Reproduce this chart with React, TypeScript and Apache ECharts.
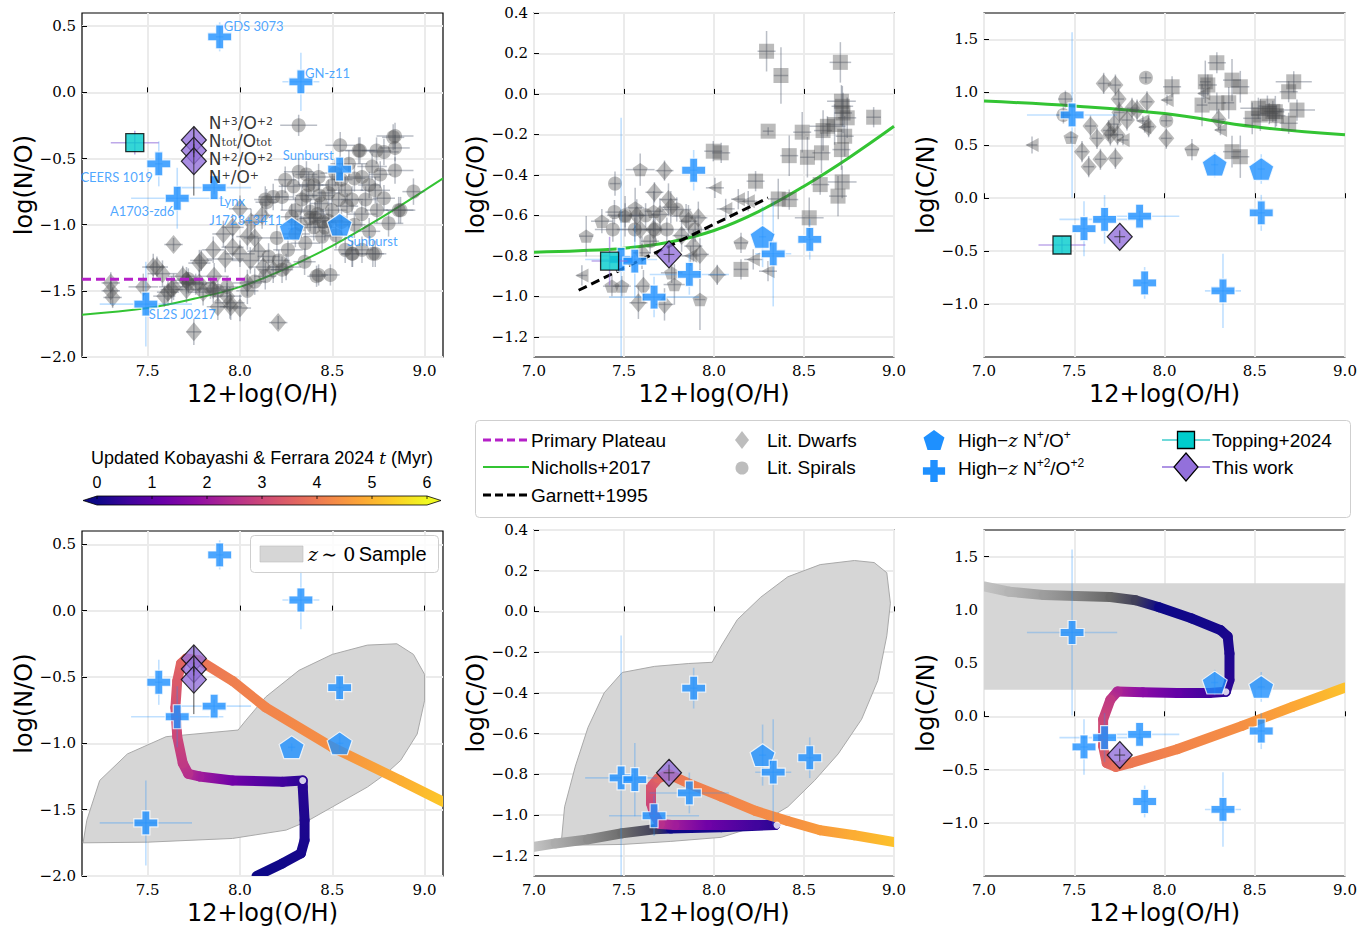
import React, { useEffect, useRef } from 'react';
import * as echarts from 'echarts';

// ---------------- DATA ----------------
// gray literature points: [12+log(O/H), value, xerr, yerr]
const noDwarfs = [
  [7.30,-1.44,0.05,0.08],[7.31,-1.55,0.05,0.08],[7.30,-1.50,0.05,0.1],[7.476,-1.47,0.08,0.1],[7.53,-1.32,0.06,0.1],
  [7.55,-1.32,0.06,0.08],[7.58,-1.37,0.08,0.1],[7.61,-1.51,0.06,0.1],[7.64,-1.15,0.05,0.05],[7.64,-1.47,0.08,0.1],
  [7.71,-1.42,0.08,0.1],[7.71,-1.49,0.06,0.1],[7.75,-1.81,0.04,0.1],[7.78,-1.29,0.06,0.1],[7.78,-1.44,0.08,0.1],
  [7.80,-1.51,0.08,0.1],[7.855,-1.19,0.06,0.1],[7.855,-1.49,0.1,0.1],[7.91,-1.07,0.06,0.1],[7.93,-1.54,0.08,0.1],
  [7.945,-1.59,0.08,0.12],[7.96,-1.17,0.06,0.1],[8.0,-1.22,0.08,0.1],[8.0,-1.63,0.06,0.1],[8.04,-1.09,0.06,0.1],
  [8.056,-1.27,0.1,0.1],[8.04,-1.44,0.08,0.1],[8.126,-1.32,0.08,0.1],[8.18,-1.34,0.08,0.1],[8.207,-1.74,0.05,0.05],
  [8.25,-1.32,0.08,0.1],[7.69,-1.39,0.08,0.08],[7.72,-1.44,0.08,0.08],[7.86,-1.39,0.08,0.1],[7.92,-1.26,0.1,0.1],
  [7.59,-1.54,0.06,0.08],[7.63,-1.49,0.06,0.1],[7.79,-1.27,0.06,0.08],[7.95,-1.62,0.06,0.1],[7.88,-1.62,0.06,0.1],
  [8.1,-1.2,0.06,0.1],[8.0,-0.88,0.06,0.1],[8.06,-0.98,0.06,0.1],[7.96,-1.02,0.06,0.1],[8.08,-1.1,0.06,0.1],[8.12,-0.93,0.06,0.1]
];
const noSpirals = [
  [8.318,-0.249,0.1,0.08],[8.543,-0.40,0.08,0.1],[8.84,-0.33,0.1,0.1],[8.78,-0.45,0.08,0.1],[8.643,-0.44,0.1,0.1],
  [8.84,-0.42,0.08,0.1],[8.245,-0.66,0.06,0.1],[8.318,-0.60,0.08,0.1],[8.372,-0.70,0.08,0.1],[8.426,-0.64,0.1,0.1],
  [8.336,-0.81,0.1,0.1],[8.408,-0.95,0.08,0.12],[8.498,-0.89,0.08,0.1],[8.57,-0.74,0.1,0.1],[8.661,-0.64,0.1,0.1],
  [8.733,-0.74,0.08,0.1],[8.742,-0.89,0.06,0.1],[8.84,-0.59,0.1,0.1],[8.94,-0.75,0.06,0.1],[8.86,-0.89,0.08,0.1],
  [8.805,-0.99,0.08,0.1],[8.354,-1.14,0.08,0.1],[8.445,-1.09,0.1,0.1],[8.57,-1.19,0.06,0.1],[8.661,-1.19,0.06,0.1],
  [8.733,-1.22,0.06,0.1],[8.607,-1.22,0.06,0.1],[8.26,-1.19,0.08,0.1],[8.155,-1.24,0.06,0.1],[8.228,-1.34,0.06,0.1],
  [8.137,-1.39,0.06,0.1],[8.426,-1.38,0.05,0.08],[8.49,-1.38,0.05,0.08],[8.21,-1.27,0.06,0.08],[8.30,-1.07,0.08,0.1],
  [8.48,-0.97,0.08,0.1],[8.535,-0.81,0.08,0.1],[8.607,-0.81,0.06,0.1],[8.68,-0.81,0.06,0.1],[8.516,-0.61,0.08,0.1],
  [8.59,-0.54,0.1,0.1],[8.716,-0.56,0.08,0.1],[8.228,-0.79,0.06,0.1],[8.137,-0.81,0.06,0.1],[8.30,-0.89,0.08,0.1],
  [8.48,-0.76,0.06,0.1],[8.43,-0.78,0.08,0.1],[8.144,-0.83,0.06,0.1],[8.18,-0.79,0.08,0.1],[8.29,-0.71,0.08,0.1],
  [8.65,-0.44,0.08,0.1],[8.74,-0.44,0.08,0.1],[8.83,-0.34,0.06,0.1],[8.87,-0.89,0.08,0.1],[8.415,-1.39,0.05,0.08],
  [8.61,-1.22,0.06,0.1],[8.72,-1.22,0.06,0.1],[8.38,-0.90,0.08,0.1],[8.40,-1.02,0.06,0.1],[8.45,-0.98,0.06,0.1],
  [8.55,-0.98,0.06,0.1],[8.62,-1.0,0.06,0.1],[8.66,-0.92,0.08,0.1],[8.70,-0.70,0.06,0.1],[8.76,-0.62,0.06,0.1],
  [8.62,-0.65,0.06,0.1],[8.50,-0.70,0.06,0.1],[8.40,-0.70,0.08,0.1],[8.36,-0.62,0.06,0.1],[8.28,-0.94,0.06,0.1],
  [8.33,-1.0,0.06,0.1],[8.52,-1.08,0.06,0.1],[8.70,-1.05,0.06,0.1],[8.78,-0.80,0.06,0.1],[8.58,-0.86,0.06,0.1],
  [8.44,-0.84,0.06,0.1],[8.35,-1.28,0.06,0.1],[8.08,-1.43,0.06,0.1],[8.04,-1.50,0.06,0.1],[7.72,-1.41,0.06,0.08],
  [7.76,-1.45,0.06,0.08],[7.84,-1.48,0.06,0.08],[7.88,-1.50,0.06,0.08],[7.93,-1.47,0.06,0.08],[8.20,-1.10,0.06,0.1],
  [8.38,-0.95,0.06,0.1],[8.42,-0.92,0.06,0.1],[8.46,-1.02,0.06,0.1],[8.36,-0.78,0.06,0.1],[8.55,-0.66,0.06,0.1]
];
const coSquares = [
  [8.292,0.211,0.05,0.1],[8.372,0.091,0.04,0.14],[8.702,0.156,0.06,0.1],[8.887,-0.115,0.04,0.05],[8.301,-0.184,0.03,0.02],
  [8.49,-0.189,0.05,0.1],[8.418,-0.305,0.05,0.1],[8.519,-0.313,0.04,0.1],[8.606,-0.181,0.05,0.1],[8.597,-0.291,0.05,0.1],
  [8.708,-0.275,0.05,0.1],[8.712,-0.435,0.08,0.08],[8.59,-0.448,0.05,0.05],[8.689,-0.505,0.05,0.1],[8.529,-0.612,0.08,0.1],
  [8.726,-0.209,0.05,0.1],[8.713,-0.061,0.06,0.1],[8.717,-0.094,0.05,0.1],[8.74,-0.118,0.05,0.1],[8.67,-0.151,0.05,0.1],
  [8.708,-0.036,0.08,0.08],[7.996,-0.283,0.05,0.05],[8.04,-0.291,0.05,0.05],[8.231,-0.431,0.05,0.05],[8.357,-0.519,0.05,0.1],
  [8.418,-0.522,0.05,0.05],[8.15,-0.867,0.04,0.05],[8.63,-0.16,0.1,0.05]
];
const coPentagons = [
  [7.29,-0.703,0.04,0.1],[7.377,-0.629,0.06,0.06],[7.506,-0.604,0.08,0.1],[7.562,-0.563,0.05,0.1],[7.59,-0.374,0.08,0.08],
  [7.922,-1.016,0.03,0.15],[8.15,-0.736,0.04,0.05],[7.78,-0.942,0.06,0.1],[7.765,-0.884,0.06,0.05],[7.433,-0.95,0.05,0.05],
  [7.488,-0.95,0.05,0.05],[7.665,-0.58,0.05,0.1]
];
const coDiamonds = [
  [7.669,-0.486,0.05,0.05],[7.725,-0.379,0.05,0.05],[7.747,-0.522,0.05,0.08],[7.70,-0.596,0.05,0.08],[7.571,-0.601,0.05,0.08],
  [7.59,-0.67,0.05,0.08],[7.664,-0.67,0.05,0.08],[7.60,-0.785,0.05,0.08],[7.608,-0.95,0.05,0.08],[7.58,-1.032,0.05,0.08],
  [7.725,-1.04,0.05,0.08],[7.858,-0.629,0.05,0.08],[7.885,-0.752,0.05,0.08],[7.922,-0.793,0.05,0.08],[8.018,-0.894,0.05,0.05],
  [7.913,-0.612,0.05,0.08],[7.82,-0.70,0.05,0.08],[7.76,-0.56,0.05,0.08]
];
const coCircles = [
  [7.45,-0.443,0.03,0.06],[7.447,-0.584,0.05,0.06],[7.438,-0.67,0.1,0.06],[7.56,-0.67,0.1,0.06],[7.673,-0.67,0.1,0.06],
  [7.738,-0.67,0.1,0.06],[7.793,-0.571,0.08,0.06],[7.845,-0.604,0.08,0.06],[7.895,-0.67,0.08,0.06],[7.506,-0.6,0.1,0.06],
  [7.645,-0.728,0.05,0.06],[7.62,-0.60,0.08,0.06]
];
const coTriangles = [
  [7.266,-0.897,0.03,0.05],[8.065,-0.568,0.05,0.05],[8.005,-0.464,0.05,0.05],[8.19,-0.53,0.05,0.05],[8.218,-0.818,0.05,0.05],
  [8.30,-0.876,0.05,0.05],[8.135,-0.52,0.04,0.05],[7.87,-0.80,0.05,0.05]
];
const cnCircles = [[7.451,0.937,0.04,0.08],[7.44,0.786,0.04,0.08],[7.897,1.138,0.03,0.05],[8.01,0.732,0.03,0.05]];
const cnDiamonds = [
  [7.663,1.085,0.03,0.1],[7.728,1.069,0.03,0.1],[7.746,0.937,0.03,0.1],[7.59,0.682,0.03,0.1],[7.626,0.566,0.03,0.1],
  [7.543,0.44,0.03,0.1],[7.58,0.298,0.03,0.1],[7.645,0.368,0.03,0.1],[7.728,0.377,0.03,0.1],[7.70,0.597,0.03,0.1],
  [7.69,0.64,0.03,0.1],[7.848,0.833,0.03,0.1],[7.903,0.911,0.03,0.1],[7.912,0.676,0.03,0.1],[8.01,0.566,0.03,0.1],
  [8.30,0.745,0.03,0.1],[7.75,0.81,0.03,0.1],[7.792,0.739,0.03,0.1],[7.72,0.70,0.03,0.1],[7.74,0.60,0.03,0.1],[7.82,0.85,0.03,0.1]
];
const cnSquares = [
  [8.29,1.28,0.05,0.1],[8.042,1.053,0.05,0.1],[8.226,1.1,0.03,0.2],[8.374,1.116,0.05,0.2],[8.42,1.053,0.05,0.15],
  [8.208,0.88,0.03,0.2],[8.356,0.902,0.03,0.15],[8.531,0.786,0.05,0.15],[8.57,0.87,0.05,0.1],[8.614,0.817,0.05,0.15],
  [8.52,0.85,0.1,0.1],[8.716,1.1,0.1,0.1],[8.688,1.006,0.05,0.1],[8.734,0.833,0.1,0.1],[8.688,0.708,0.05,0.1],
  [8.486,0.755,0.05,0.15],[8.374,0.44,0.05,0.15],[8.42,0.392,0.05,0.2],[8.6,0.82,0.05,0.1],[8.62,0.78,0.05,0.1],
  [8.58,0.80,0.05,0.1],[8.24,1.07,0.05,0.1],[8.29,0.90,0.05,0.1]
];
const cnTriangles = [[7.266,0.503,0.03,0.08],[8.014,0.927,0.03,0.05],[8.217,0.99,0.03,0.05],[8.31,0.645,0.03,0.05],[7.89,0.67,0.03,0.05],[7.88,0.73,0.03,0.05],[7.77,0.55,0.03,0.05]];
const cnPentagons = [[7.482,0.575,0.03,0.05],[8.152,0.46,0.04,0.1]];

// high-z galaxies: [12+log(O/H), value, xerr, yerr]
const noCross = [[7.89,0.42,0.02,0.11],[8.33,0.08,0.1,0.22],[7.56,-0.54,0.02,0.17],[7.66,-0.80,0.25,0.23],[7.86,-0.72,0.2,0.05],[8.54,-0.58,0.02,0.1],[7.49,-1.6,0.25,0.32]];
const noCrossNames = ['GDS 3073','GN-z11','CEERS 1019','A1703-zd6','Lynx','Sunburst','SL2S J0217'];
const noPent = [[8.28,-1.03,0.02,0.03],[8.54,-1.0,0.02,0.06]];
const noPentNames = ['J1723+3411','Sunburst'];
const coCross = [[7.484,-0.818,0.2,0.7],[7.56,-0.826,0.02,0.18],[7.667,-1.004,0.25,0.1],[7.863,-0.892,0.22,0.1],[7.887,-0.377,0.02,0.1],[8.329,-0.79,0.1,0.26],[8.532,-0.719,0.02,0.1]];
const coPent = [[8.27,-0.706,0.02,0.15]];
const cnCross = [[7.488,0.787,0.25,0.78],[7.554,-0.288,0.02,0.26],[7.668,-0.20,0.25,0.23],[7.862,-0.17,0.22,0.05],[7.89,-0.80,0.02,0.15],[8.324,-0.875,0.1,0.35],[8.536,-0.138,0.02,0.17]];
const cnPent = [[8.278,0.317,0.02,0.12],[8.536,0.276,0.02,0.14]];
const toppingNO = [[7.43,-0.38,0.13,0.09]];
const toppingCO = [[7.42,-0.826,0.1,0.12]];
const toppingCN = [[7.432,-0.442,0.13,0.08]];
const thisWorkNO = [[7.75,-0.36,0.0,0.1],[7.75,-0.44,0.0,0.05],[7.75,-0.52,0.0,0.26]];
const thisWorkCO = [[7.75,-0.793,0.03,0.04]];
const thisWorkCN = [[7.752,-0.364,0.03,0.06]];
const thisWorkLabels = ['{m|N}{sp|+3}{m|/O}{sp|+2}', '{m|N}{sb|tot}{m|/O}{sb|tot}', '{m|N}{sp|+2}{m|/O}{sp|+2}', '{m|N}{sp|+}{m|/O}{sp|+}'];

// reference relations
const nichollsNO = [[7.144,-1.68],[7.5,-1.63],[7.75,-1.56],[8.0,-1.47],[8.25,-1.33],[8.5,-1.16],[8.75,-0.96],[9.0,-0.74],[9.1,-0.65]];
const nichollsCO = [[7.0,-0.782],[7.25,-0.775],[7.5,-0.762],[7.75,-0.733],[8.0,-0.675],[8.25,-0.58],[8.5,-0.456],[8.75,-0.315],[9.0,-0.16]];
const nichollsCN = [[7.0,0.918],[7.5,0.872],[8.0,0.80],[8.5,0.675],[9.0,0.60]];
const garnettCO = [[7.248,-0.97],[8.30,-0.514]];
const plateauNO = [[7.144,-1.413],[8.05,-1.413]];

// z~0 sample regions
const noRegion = [[7.15,-1.75],[7.5,-1.745],[7.96,-1.717],[8.25,-1.654],[8.36,-1.59],[8.5,-1.48],[8.69,-1.33],[8.79,-1.23],[8.87,-1.13],[8.96,-0.93],[9.0,-0.68],[9.0,-0.48],[8.94,-0.33],[8.85,-0.25],[8.69,-0.26],[8.5,-0.33],[8.32,-0.45],[8.14,-0.65],[8.03,-0.83],[7.99,-0.9],[7.6,-0.95],[7.39,-1.08],[7.24,-1.28],[7.17,-1.58]];
const coRegion = [[7.15,-1.149],[7.17,-0.96],[7.23,-0.76],[7.30,-0.57],[7.39,-0.40],[7.49,-0.30],[7.67,-0.27],[7.86,-0.256],[7.99,-0.25],[8.04,-0.17],[8.13,-0.04],[8.26,0.07],[8.41,0.17],[8.59,0.23],[8.78,0.25],[8.89,0.24],[8.96,0.19],[8.98,0.04],[8.96,-0.12],[8.91,-0.34],[8.82,-0.53],[8.69,-0.70],[8.56,-0.83],[8.41,-0.96],[8.22,-1.06],[8.04,-1.11],[7.76,-1.13],[7.49,-1.145]];
const cnRegion = [[7.0,0.25],[9.0,0.25],[9.0,1.25],[7.0,1.25]];

// Kobayashi & Ferrara model tracks: [12+log(O/H), value, t (Myr); negative t = pre-burst grey]
const trackNO = [[8.09,-2.0,0.0],[8.23,-1.905,0.05],[8.33,-1.83,0.1],[8.35,-1.73,0.15],[8.35,-1.58,0.2],[8.34,-1.33,0.3],[8.34,-1.28,0.35],[8.23,-1.29,0.6],[7.96,-1.28,1.3],[7.78,-1.25,2.1],[7.72,-1.23,2.5],[7.69,-1.15,2.7],[7.66,-0.95,3.0],[7.65,-0.73,3.2],[7.66,-0.53,3.4],[7.68,-0.40,3.6],[7.71,-0.36,3.7],[7.78,-0.375,3.9],[7.96,-0.53,4.1],[8.14,-0.73,4.2],[8.5,-1.03,4.4],[8.87,-1.28,4.9],[9.1,-1.44,5.3]];
const trackCO = [[7.0,-1.157,-1.0],[7.12,-1.14,-0.85],[7.30,-1.12,-0.65],[7.49,-1.09,-0.45],[7.67,-1.07,-0.2],[7.76,-1.067,0.0],[8.04,-1.06,0.1],[8.34,-1.05,0.35],[8.23,-1.05,0.6],[7.96,-1.05,1.3],[7.78,-1.05,2.1],[7.70,-1.045,2.5],[7.67,-1.0,2.8],[7.65,-0.944,3.0],[7.65,-0.862,3.3],[7.69,-0.82,3.6],[7.75,-0.80,3.8],[7.86,-0.846,4.1],[8.04,-0.91,4.2],[8.23,-0.98,4.3],[8.41,-1.03,4.4],[8.59,-1.075,4.6],[8.78,-1.10,4.9],[9.0,-1.133,5.2]];
const trackCN = [[7.0,1.22,-1.0],[7.14,1.17,-0.9],[7.33,1.14,-0.75],[7.51,1.13,-0.6],[7.70,1.12,-0.4],[7.84,1.09,-0.2],[7.97,1.025,0.0],[8.15,0.92,0.05],[8.31,0.81,0.1],[8.35,0.75,0.15],[8.36,0.59,0.2],[8.36,0.34,0.3],[8.34,0.23,0.35],[8.25,0.22,0.6],[8.07,0.22,1.1],[7.88,0.225,1.7],[7.74,0.234,2.3],[7.70,0.156,2.7],[7.66,-0.03,3.0],[7.66,-0.28,3.3],[7.68,-0.44,3.6],[7.73,-0.475,3.8],[7.81,-0.44,4.0],[8.07,-0.31,4.2],[8.43,-0.09,4.4],[8.71,0.09,4.8],[9.0,0.27,5.2]];
const turnNO = [[8.34,-1.28]];
const turnCO = [[8.35,-1.05]];
const turnCN = [[8.34,0.23]];

// axes ticks
const ohTicksWide = [7.5, 8.0, 8.5, 9.0];
const ohTicks = [7.0, 7.5, 8.0, 8.5, 9.0];
const noTicks = [-2.0, -1.5, -1.0, -0.5, 0.0, 0.5];
const coTicks = [-1.2, -1.0, -0.8, -0.6, -0.4, -0.2, 0.0, 0.2, 0.4];
const cnTicks = [-1.0, -0.5, 0.0, 0.5, 1.0, 1.5];
const cbTicks = [0, 1, 2, 3, 4, 5, 6];

// ---------------- STYLE / HELPERS ----------------
const PLASMA = ['#0d0887','#41049d','#6a00a8','#8f0da4','#b12a90','#cc4778','#e16462','#f2844b','#fca636','#fcce25','#f0f921'];
const GRAY = 'rgba(75,75,75,0.47)';
const GRAY_ERR = 'rgba(90,100,120,0.42)';
const BLUE = '#1e90ff';
const BLUE_ERR = 'rgba(30,144,255,0.28)';
const PURPLE = '#9370db';
const CYAN = '#00cccc';
const GREEN = '#33c433';
const SERIF = '"DejaVu Serif", serif';
const SANS = '"DejaVu Sans", sans-serif';
const LSANS = '"Liberation Sans", Arial, sans-serif';

const SYM = {
  plus: 'path://M-1,-3L1,-3L1,-1L3,-1L3,1L1,1L1,3L-1,3L-1,1L-3,1L-3,-1L-1,-1Z',
  pent: 'path://M0,-1L0.951,-0.309L0.588,0.809L-0.588,0.809L-0.951,-0.309Z',
  ltri: 'path://M-1,0L0.8,-0.95L0.8,0.95Z',
};

function hex(h: string) { return [parseInt(h.slice(1,3),16), parseInt(h.slice(3,5),16), parseInt(h.slice(5,7),16)]; }
function mix(a: string, b: string, f: number) {
  const A = hex(a), B = hex(b);
  const c = A.map((v, i) => Math.round(v + (B[i] - v) * f));
  return `rgb(${c[0]},${c[1]},${c[2]})`;
}
function plasma(f: number) {
  f = Math.max(0, Math.min(1, f));
  const p = f * 10; const i = Math.min(9, Math.floor(p));
  return mix(PLASMA[i], PLASMA[i + 1], p - i);
}
function trackColor(t: number) {
  if (t >= 0) return plasma(t / 6);
  const f = t + 1;
  if (f < 0.75) return mix('#c4c4c4', '#4e4e4e', f / 0.75);
  return mix('#4e4e4e', '#0d0887', (f - 0.75) / 0.25);
}
const fmt = (v: number) => (v < -1e-9 ? '\u2212' : '') + Math.abs(v).toFixed(1);

const GRIDS = [
  { left: 82, top: 13, width: 361, height: 344 },
  { left: 534, top: 13, width: 360, height: 344 },
  { left: 984, top: 13, width: 361, height: 344 },
  { left: 82, top: 531, width: 361, height: 345 },
  { left: 534, top: 530, width: 360, height: 346 },
  { left: 984, top: 530, width: 361, height: 346 },
];

function xAxis(gi: number, min: number, max: number, ticks: number[]) {
  return {
    type: 'value', gridIndex: gi, min, max,
    axisLine: { show: false },
    axisTick: { show: true, inside: true, length: 5, customValues: ticks, lineStyle: { color: '#000' } },
    axisLabel: { customValues: ticks, formatter: fmt, fontFamily: SERIF, fontSize: 15, color: '#000', margin: 6 },
    splitLine: { show: true, lineStyle: { color: '#ebebeb', width: 2 } },
    name: '12+log(O/H)', nameLocation: 'middle', nameGap: 25,
    nameTextStyle: { fontFamily: SANS, fontSize: 24, color: '#000' },
  };
}
function yAxis(gi: number, min: number, max: number, ticks: number[], name: string) {
  return {
    type: 'value', gridIndex: gi, min, max,
    axisLine: { show: false },
    axisTick: { show: true, inside: true, length: 5, customValues: ticks, lineStyle: { color: '#000' } },
    axisLabel: { customValues: ticks, formatter: fmt, fontFamily: SERIF, fontSize: 15, color: '#000', margin: 6 },
    splitLine: { show: true, lineStyle: { color: '#ebebeb', width: 2 } },
    name, nameLocation: 'middle', nameGap: 46,
    nameTextStyle: { fontFamily: SANS, fontSize: 24, color: '#000' },
  };
}

function errBars(gi: number, pts: number[][], color: string, width: number, z: number) {
  return {
    type: 'custom', xAxisIndex: gi, yAxisIndex: gi, silent: true, clip: true, z,
    data: pts.map(p => [p[0], p[1], p[2] || 0, p[3] || 0]),
    encode: { x: 0, y: 1 },
    renderItem: (params: any, api: any) => {
      const x = api.value(0), y = api.value(1), xe = api.value(2), ye = api.value(3);
      const a = api.coord([x - xe, y]), b = api.coord([x + xe, y]);
      const c = api.coord([x, y - ye]), d = api.coord([x, y + ye]);
      const st = { stroke: color, lineWidth: width };
      return { type: 'group', children: [
        { type: 'line', shape: { x1: a[0], y1: a[1], x2: b[0], y2: b[1] }, style: st },
        { type: 'line', shape: { x1: c[0], y1: c[1], x2: d[0], y2: d[1] }, style: st },
      ] };
    },
  };
}
function marks(gi: number, pts: number[][], symbol: string, size: any, itemStyle: any, z: number) {
  return {
    type: 'scatter', xAxisIndex: gi, yAxisIndex: gi, silent: true, z,
    data: pts.map(p => [p[0], p[1]]), symbol, symbolSize: size, symbolKeepAspect: true, itemStyle,
  };
}
function curve(gi: number, pts: number[][], color: string, width: number, dash: any, z: number, smooth: any = 0.4) {
  return {
    type: 'line', xAxisIndex: gi, yAxisIndex: gi, silent: true, z, data: pts, smooth, showSymbol: false, symbol: 'none',
    lineStyle: { color, width, type: dash || 'solid' },
  };
}
function region(gi: number, poly: number[][], stroke: boolean) {
  return {
    type: 'custom', xAxisIndex: gi, yAxisIndex: gi, silent: true, clip: true, z: 1,
    data: [poly[0]], encode: { x: 0, y: 1 },
    renderItem: (params: any, api: any) => ({
      type: 'polygon', shape: { points: poly.map(p => api.coord(p)) },
      style: { fill: '#d6d6d6', stroke: stroke ? '#a9a9a9' : 'none', lineWidth: 1 },
    }),
  };
}
function track(gi: number, tr: number[][], turn: number[][]) {
  const segs: number[][] = [];
  for (let i = 1; i < tr.length; i++) segs.push([tr[i-1][0], tr[i-1][1], tr[i][0], tr[i][1], tr[i-1][2], tr[i][2]]);
  return [{
    type: 'custom', xAxisIndex: gi, yAxisIndex: gi, silent: true, clip: true, z: 3,
    data: segs, encode: { x: [0, 2], y: [1, 3] },
    renderItem: (params: any, api: any) => {
      const p0 = api.coord([api.value(0), api.value(1)]);
      const p1 = api.coord([api.value(2), api.value(3)]);
      const t0 = api.value(4), t1 = api.value(5);
      return {
        type: 'line', shape: { x1: p0[0], y1: p0[1], x2: p1[0], y2: p1[1] },
        style: {
          lineWidth: 10, lineCap: 'round',
          stroke: { type: 'linear', x: p0[0], y: p0[1], x2: p1[0] + 0.01, y2: p1[1] + 0.01, global: true,
            colorStops: [{ offset: 0, color: trackColor(t0) }, { offset: 1, color: trackColor(t1) }] },
        },
      };
    },
  }, marks(gi, turn, 'circle', 7, { color: '#fff' }, 4)];
}
function highz(gi: number, cross: number[][], pent: number[][]) {
  return [
    errBars(gi, cross, BLUE_ERR, 1.6, 6),
    errBars(gi, pent, BLUE_ERR, 1.6, 6),
    marks(gi, pent, SYM.pent, [25, 24], { color: BLUE, borderColor: '#fff', borderWidth: 1.2 }, 7),
    marks(gi, cross, SYM.plus, 24, { color: BLUE, borderColor: '#fff', borderWidth: 1.2 }, 8),
  ];
}
function topping(gi: number, pts: number[][]) {
  return [
    errBars(gi, pts, 'rgba(147,112,219,0.6)', 1.5, 9),
    marks(gi, pts, 'rect', 18, { color: CYAN, borderColor: '#000', borderWidth: 1.3 }, 9),
  ];
}
function thisWork(gi: number, pts: number[][]) {
  return [
    marks(gi, pts, 'diamond', [25, 27], { color: PURPLE, borderColor: '#000', borderWidth: 1.2 }, 10),
    errBars(gi, pts, 'rgba(40,40,40,0.8)', 1, 11),
  ];
}
function grayPts(gi: number, pts: number[][], symbol: string, size: any) {
  return [errBars(gi, pts, GRAY_ERR, 1.5, 4), marks(gi, pts, symbol, size, { color: GRAY }, 5)];
}

// label placements (pixel offsets from the marker, alignment)
const crossLabelPlace: any[] = [[4,-11,'left'],[4,-9,'left'],[-6,13,'right'],[-3,13,'right'],[5,13,'left'],[-6,-14,'right'],[3,10,'left']];
const pentLabelPlace: any[] = [[-9,-9,'right'],[7,16,'left']];
const thisWorkLabelDy = [-28, -10, 8, 26];

function nameLabels(gi: number, pts: number[][], names: string[], place: any[]) {
  return {
    type: 'scatter', xAxisIndex: gi, yAxisIndex: gi, silent: true, z: 12, symbolSize: 0,
    data: pts.map((p, i) => ({
      value: [p[0], p[1]],
      label: {
        show: true, formatter: () => names[i], position: [place[i][0], place[i][1]], align: place[i][2], verticalAlign: 'middle',
        color: BLUE, fontFamily: 'Lato, sans-serif', fontSize: 13, lineHeight: 13,
      },
    })),
  };
}

function buildOption() {
  const series: any[] = [];
  // ---- panel 0: N/O top
  series.push(curve(0, nichollsNO, GREEN, 2, null, 3));
  series.push(...grayPts(0, noDwarfs, 'diamond', [16, 19]));
  series.push(...grayPts(0, noSpirals, 'circle', 14));
  series.push(curve(0, plateauNO, '#b520c8', 3, [9, 5], 6, false));
  series.push(...highz(0, noCross, noPent));
  series.push(...topping(0, toppingNO));
  series.push(...thisWork(0, thisWorkNO));
  series.push(nameLabels(0, noCross, noCrossNames, crossLabelPlace));
  series.push(nameLabels(0, noPent, noPentNames, pentLabelPlace));
  series.push({
    type: 'scatter', xAxisIndex: 0, yAxisIndex: 0, silent: true, z: 12, symbolSize: 0,
    data: thisWorkLabels.map((txt, i) => ({ value: [thisWorkNO[1][0], thisWorkNO[1][1]], label: {
      show: true, position: [15, thisWorkLabelDy[i]], align: 'left', verticalAlign: 'middle',
      formatter: () => txt,
      rich: {
        m: { fontFamily: SANS, fontSize: 17, lineHeight: 14, color: '#000' },
        sp: { fontFamily: SANS, fontSize: 11, lineHeight: 4, verticalAlign: 'top', color: '#000' },
        sb: { fontFamily: SERIF, fontSize: 11, lineHeight: 4, verticalAlign: 'bottom', color: '#000' },
      },
    } })),
  });

  // ---- panel 1: C/O top
  series.push(curve(1, nichollsCO, GREEN, 3, null, 3));
  series.push(...grayPts(1, coSquares, 'rect', 15));
  series.push(...grayPts(1, coPentagons, SYM.pent, [15, 14]));
  series.push(...grayPts(1, coDiamonds, 'diamond', [16, 19]));
  series.push(...grayPts(1, coCircles, 'circle', 14));
  series.push(...grayPts(1, coTriangles, SYM.ltri, 14));
  series.push(curve(1, garnettCO, '#000', 3, [9, 5], 6, false));
  series.push(...topping(1, toppingCO));
  series.push(...highz(1, coCross, coPent));
  series.push(...thisWork(1, thisWorkCO));

  // ---- panel 2: C/N top
  series.push(curve(2, nichollsCN, GREEN, 3, null, 3));
  series.push(...grayPts(2, cnSquares, 'rect', 15));
  series.push(...grayPts(2, cnPentagons, SYM.pent, [15, 14]));
  series.push(...grayPts(2, cnDiamonds, 'diamond', [16, 19]));
  series.push(...grayPts(2, cnCircles, 'circle', 14));
  series.push(...grayPts(2, cnTriangles, SYM.ltri, 14));
  series.push(...topping(2, toppingCN));
  series.push(...highz(2, cnCross, cnPent));
  series.push(...thisWork(2, thisWorkCN));

  // ---- panel 3: N/O bottom
  series.push(region(3, noRegion, true));
  series.push(...track(3, trackNO, turnNO));
  series.push(...highz(3, noCross, noPent));
  series.push(...thisWork(3, thisWorkNO));

  // ---- panel 4: C/O bottom
  series.push(region(4, coRegion, true));
  series.push(...track(4, trackCO, turnCO));
  series.push(...highz(4, coCross, coPent));
  series.push(...thisWork(4, thisWorkCO));

  // ---- panel 5: C/N bottom
  series.push(region(5, cnRegion, false));
  series.push(...track(5, trackCN, turnCN));
  series.push(...highz(5, cnCross, cnPent));
  series.push(...thisWork(5, thisWorkCN));

  // ---- graphic: legend, colorbar, inset legend
  const g: any[] = [];
  const lt = (x: number, y: number, text: string, extra: any = {}) => ({
    type: 'text', x, y, silent: true, z: 100,
    style: { text, fontFamily: LSANS, fontSize: 19, fill: '#000', verticalAlign: 'middle', align: 'left', ...extra },
  });
  const ln = (x1: number, y1: number, x2: number, y2: number, stroke: string, lineWidth: number, lineDash?: number[]) => ({
    type: 'line', silent: true, z: 100, shape: { x1, y1, x2, y2 }, style: { stroke, lineWidth, lineDash },
  });
  g.push({ type: 'rect', z: 99, silent: true, shape: { x: 475.5, y: 420.5, width: 875, height: 97, r: 4 }, style: { fill: '#fff', stroke: '#cfcfcf', lineWidth: 1 } });
  // col 1
  g.push(ln(483, 440, 529, 440, '#b520c8', 3, [8, 4]));
  g.push(lt(531, 440, 'Primary Plateau'));
  g.push(ln(483, 467, 529, 467, GREEN, 2));
  g.push(lt(531, 467, 'Nicholls+2017'));
  g.push(ln(483, 495, 529, 495, '#000', 3, [8, 4]));
  g.push(lt(531, 495, 'Garnett+1995'));
  // col 2
  g.push({ type: 'polygon', z: 100, silent: true, shape: { points: [[742, 431], [749, 440], [742, 449], [735, 440]] }, style: { fill: '#bdbdbd' } });
  g.push(lt(767, 440, 'Lit. Dwarfs'));
  g.push({ type: 'circle', z: 100, silent: true, shape: { cx: 742, cy: 468, r: 6.5 }, style: { fill: '#bdbdbd' } });
  g.push(lt(767, 467, 'Lit. Spirals'));
  // col 3
  const richHz = {
    a: { fontFamily: LSANS, fontSize: 19, lineHeight: 22, fill: '#000' },
    z: { fontFamily: SERIF, fontStyle: 'italic', fontSize: 18, lineHeight: 22, fill: '#000' },
    s: { fontFamily: LSANS, fontSize: 12, lineHeight: 8, verticalAlign: 'top', fill: '#000' },
  };
  const pentPts = [[0,-1],[0.951,-0.309],[0.588,0.809],[-0.588,0.809],[-0.951,-0.309]].map(p => [934 + p[0] * 11, 441 + p[1] * 11]);
  g.push({ type: 'polygon', z: 100, silent: true, shape: { points: pentPts }, style: { fill: BLUE } });
  g.push(lt(958, 440, '{a|High\u2212}{z|z}{a| N}{s|+}{a|/O}{s|+}', { rich: richHz }));
  const plusPts = [[-1,-3],[1,-3],[1,-1],[3,-1],[3,1],[1,1],[1,3],[-1,3],[-1,1],[-3,1],[-3,-1],[-1,-1]].map(p => [934 + p[0] * 3.7, 471 + p[1] * 3.7]);
  g.push({ type: 'polygon', z: 100, silent: true, shape: { points: plusPts }, style: { fill: BLUE } });
  g.push(lt(958, 468, '{a|High\u2212}{z|z}{a| N}{s|+2}{a|/O}{s|+2}', { rich: richHz }));
  // col 4
  g.push(ln(1162, 440, 1210, 440, '#40cccc', 1.5));
  g.push({ type: 'rect', z: 101, silent: true, shape: { x: 1177.5, y: 431.5, width: 17, height: 17 }, style: { fill: CYAN, stroke: '#000', lineWidth: 1.3 } });
  g.push(lt(1212, 440, 'Topping+2024'));
  g.push(ln(1162, 467, 1210, 467, PURPLE, 1.5));
  g.push({ type: 'polygon', z: 101, silent: true, shape: { points: [[1186, 453], [1198, 467], [1186, 481], [1174, 467]] }, style: { fill: PURPLE, stroke: '#000', lineWidth: 1.2 } });
  g.push(lt(1212, 467, 'This work'));

  // colorbar
  const cbX0 = 97, cbX1 = 427, cbY = 496, cbH = 9;
  g.push({ type: 'text', x: 262, y: 458, silent: true, style: {
    text: '{a|Updated Kobayashi & Ferrara 2024 }{t|t}{a| (Myr)}', align: 'center', verticalAlign: 'middle',
    rich: { a: { fontFamily: LSANS, fontSize: 18, fill: '#000' }, t: { fontFamily: SERIF, fontStyle: 'italic', fontSize: 17, fill: '#000' } },
  } });
  g.push({ type: 'rect', silent: true, shape: { x: cbX0, y: cbY, width: cbX1 - cbX0, height: cbH }, style: {
    fill: { type: 'linear', x: 0, y: 0, x2: 1, y2: 0, colorStops: PLASMA.map((c, i) => ({ offset: i / 10, color: c })) },
  } });
  g.push({ type: 'polygon', silent: true, shape: { points: [[cbX0, cbY], [cbX0 - 14, cbY + cbH / 2], [cbX0, cbY + cbH]] }, style: { fill: PLASMA[0] } });
  g.push({ type: 'polygon', silent: true, shape: { points: [[cbX1, cbY], [cbX1 + 14, cbY + cbH / 2], [cbX1, cbY + cbH]] }, style: { fill: PLASMA[10] } });
  g.push({ type: 'polygon', silent: true, shape: { points: [[cbX0 - 14, cbY + cbH / 2], [cbX0, cbY], [cbX1, cbY], [cbX1 + 14, cbY + cbH / 2], [cbX1, cbY + cbH], [cbX0, cbY + cbH]] }, style: { fill: 'none', stroke: '#000', lineWidth: 0.8 } });
  cbTicks.forEach(t => {
    const x = cbX0 + (cbX1 - cbX0) * t / 6;
    g.push(ln(x, cbY, x, cbY + 3, '#000', 0.8));
    g.push({ type: 'text', x, y: 482, silent: true, style: { text: String(t), fontFamily: LSANS, fontSize: 16, fill: '#000', align: 'center', verticalAlign: 'middle' } });
  });

  // inset legend panel 3
  g.push({ type: 'rect', z: 99, silent: true, shape: { x: 250.5, y: 535.5, width: 188, height: 37, r: 4 }, style: { fill: 'rgba(255,255,255,0.85)', stroke: '#cfcfcf', lineWidth: 1 } });
  g.push({ type: 'rect', z: 100, silent: true, shape: { x: 260, y: 546, width: 43, height: 16 }, style: { fill: '#d6d6d6', stroke: '#bdbdbd', lineWidth: 0.6 } });
  g.push({ type: 'text', x: 308, y: 554, z: 100, silent: true, style: {
    text: '{z|z} {s|\u223c 0} {a|Sample}', verticalAlign: 'middle', align: 'left',
    rich: {
      z: { fontFamily: SERIF, fontStyle: 'italic', fontSize: 19, fill: '#000' },
      s: { fontFamily: SERIF, fontSize: 19, fill: '#000' },
      a: { fontFamily: LSANS, fontSize: 20, fill: '#000' },
    },
  } });

  return {
    animation: false,
    backgroundColor: '#fff',
    grid: GRIDS.map(gr => ({ ...gr, show: true, borderColor: '#000', borderWidth: 1.2, backgroundColor: 'transparent', containLabel: false })),
    xAxis: [
      xAxis(0, 7.144, 9.1, ohTicksWide), xAxis(1, 7.0, 9.0, ohTicks), xAxis(2, 7.0, 9.0, ohTicks),
      xAxis(3, 7.144, 9.1, ohTicksWide), xAxis(4, 7.0, 9.0, ohTicks), xAxis(5, 7.0, 9.0, ohTicks),
    ],
    yAxis: [
      yAxis(0, -2.0, 0.6, noTicks, 'log(N/O)'), yAxis(1, -1.3, 0.4, coTicks, 'log(C/O)'), yAxis(2, -1.5, 1.75, cnTicks, 'log(C/N)'),
      yAxis(3, -2.0, 0.6, noTicks, 'log(N/O)'), yAxis(4, -1.3, 0.4, coTicks, 'log(C/O)'), yAxis(5, -1.5, 1.75, cnTicks, 'log(C/N)'),
    ],
    series,
    graphic: { elements: g },
  };
}

export default function App() {
  const ref = useRef<HTMLDivElement>(null);
  useEffect(() => {
    document.body.style.margin = '0';
    const chart = echarts.init(ref.current as HTMLDivElement, null, { renderer: 'svg' });
    chart.setOption(buildOption() as any);
    return () => chart.dispose();
  }, []);
  return <div ref={ref} style={{ position: 'absolute', left: 0, top: 0, width: 1372, height: 931 }} />;
}
